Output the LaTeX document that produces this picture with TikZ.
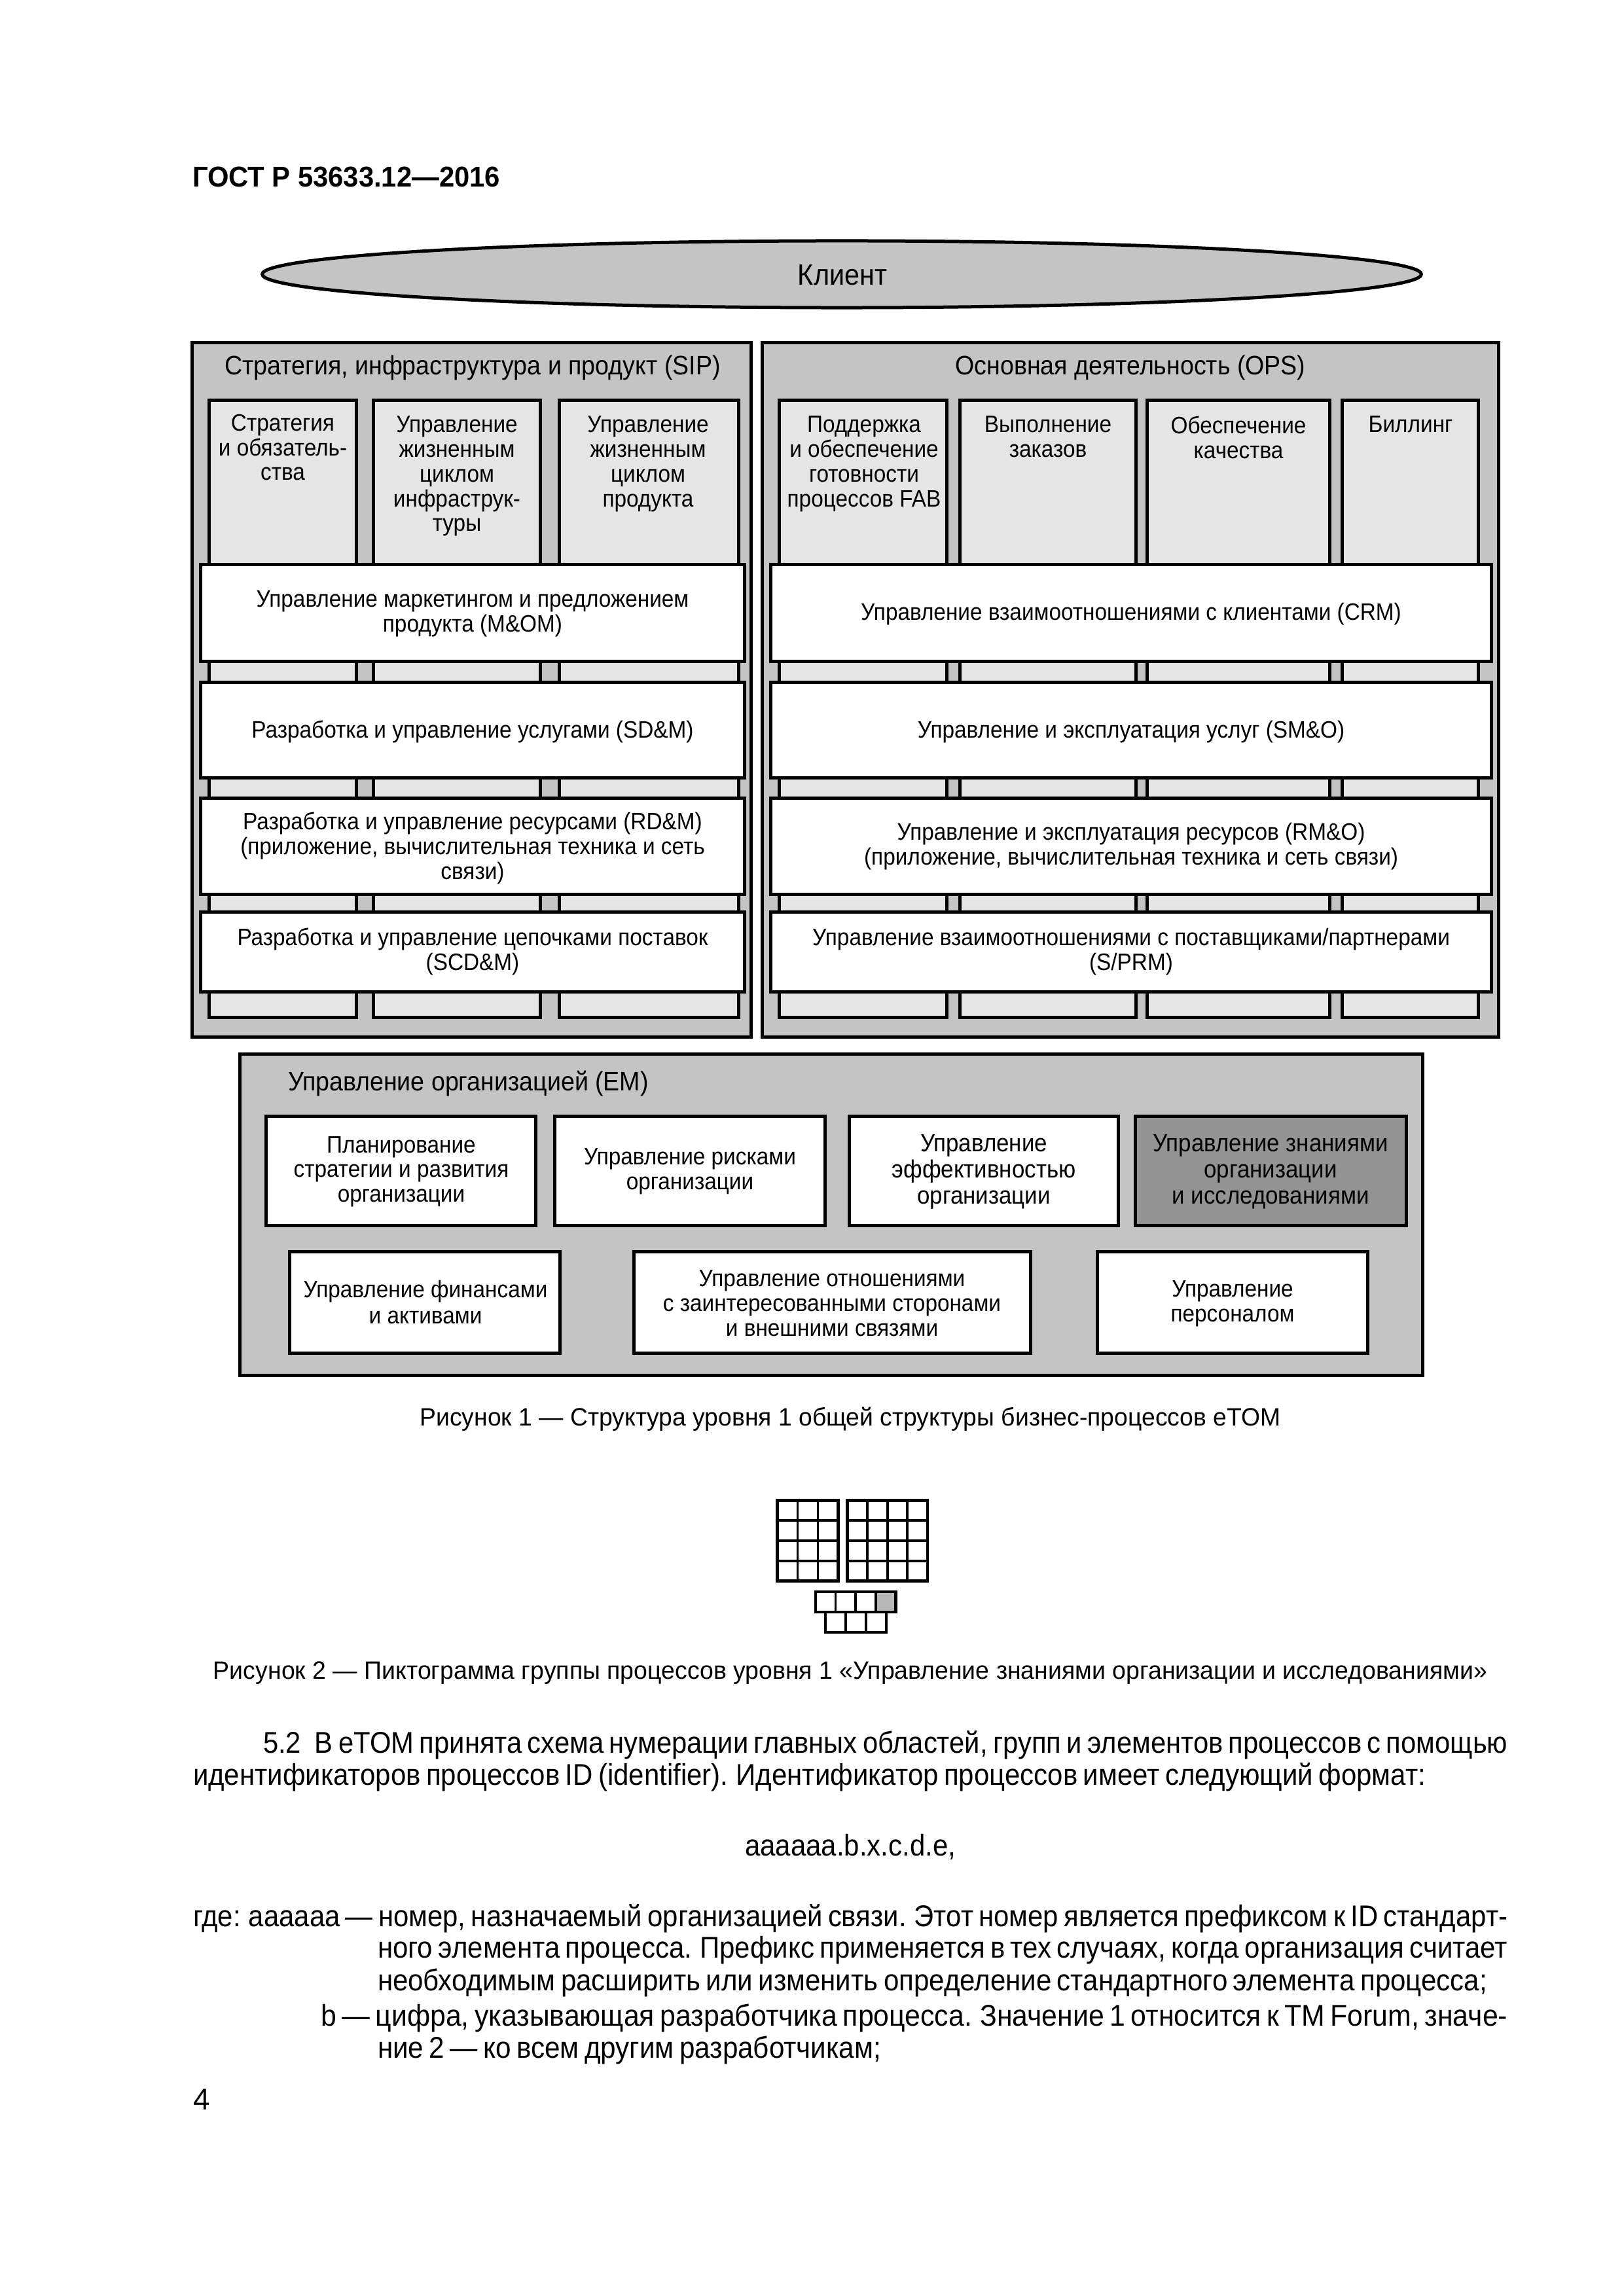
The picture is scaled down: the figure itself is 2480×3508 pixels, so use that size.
\documentclass[tikz,border=0pt]{standalone}
\usepackage{fontspec}
\setmainfont{Liberation Sans}
\newfontfamily\dg[FakeStretch=0.92]{Liberation Sans}
\newfontfamily\bodyf[WordSpace=0.72]{Liberation Sans}
\usetikzlibrary{shapes.geometric}
\definecolor{outerg}{gray}{0.77}
\definecolor{innerg}{gray}{0.9}
\definecolor{darkg}{gray}{0.58}
\newcommand{\bx}[7]{% name style x1 y1 x2 y2 text
  \pgfmathsetmacro{\cxx}{(#3+#5)/2}\pgfmathsetmacro{\cyy}{(#4+#6)/2}%
  \pgfmathsetlengthmacro{\www}{(#5-#3-5)*0.24pt}\pgfmathsetlengthmacro{\hhh}{(#6-#4-5)*0.24pt}%
  \node[#2,minimum width=\www,minimum height=\hhh] (#1) at (\cxx,\cyy) {#7};}
\newcommand{\tline}[6]{% name anchor x y w text
  \node[pline,anchor=#2] (#1) at (#3,#4) {\resizebox{\dimexpr 0.24pt*#5\relax}{\height}{#6}};}
\tikzset{
  x=0.24pt,y=-0.24pt,
  every node/.style={inner sep=0pt,outer sep=0pt},
  pbox/.style={rectangle,draw=black,line width=1.2pt,align=center,font=\dg\fontsize{8.7}{9.05}\selectfont},
  panel/.style={pbox,fill=outerg},
  col/.style={pbox,fill=innerg},
  bar/.style={pbox,fill=white},
  hot/.style={pbox,fill=darkg},
  big/.style={font=\dg\fontsize{9.1}{9.6}\selectfont},
  lab/.style={align=center,font=\dg\fontsize{8.7}{9.05}\selectfont},
  head/.style={align=center,font=\dg\fontsize{9.8}{10}\selectfont},
  pline/.style={font=\bodyf\fontsize{11}{13}\selectfont},
  capt/.style={font=\fontsize{9.2}{11}\selectfont},
  ic/.style={line width=0.9pt,draw=black},
  icout/.style={line width=1.15pt,draw=black},
}
\begin{document}
\begin{tikzpicture}
\useasboundingbox (0,0) rectangle (2480,3508);
\fill[white] (0,0) rectangle (2480,3508);

\node[anchor=west,font=\bfseries\fontsize{10.5}{12}\selectfont] (std) at (294,270) {\resizebox{\dimexpr 0.24pt*470\relax}{\height}{ГОСТ Р 53633.12—2016}};

\node[ellipse,draw=black,line width=1.2pt,fill=outerg,minimum width=425pt,minimum height=24.5pt] (cl) at (1286,419) {};
\node[font=\dg\fontsize{10.8}{11}\selectfont] (tcl) at (1287,420) {Клиент};

% panels
\bx{sip}{panel}{291}{521}{1150}{1587}{}
\bx{ops}{panel}{1162}{521}{2292}{1587}{}
\node[head] (tsip) at (722,562) {Стратегия, инфраструктура и продукт (SIP)};
\node[head] (tops) at (1727,562) {Основная деятельность (OPS)};

% columns
\bx{c1}{col}{317}{609}{547}{1557}{}
\bx{c2}{col}{568}{609}{828}{1557}{}
\bx{c3}{col}{852}{609}{1131}{1557}{}
\bx{c4}{col}{1188}{609}{1449}{1557}{}
\bx{c5}{col}{1464}{609}{1738}{1557}{}
\bx{c6}{col}{1750}{609}{2034}{1557}{}
\bx{c7}{col}{2048}{609}{2261}{1557}{}
\node[lab,anchor=north] (tc1) at (432,633) {Стратегия\\и обязатель-\\ства};
\node[lab,anchor=north] (tc2) at (698,636) {Управление\\жизненным\\циклом\\инфраструк-\\туры};
\node[lab,anchor=north] (tc3) at (990,636) {Управление\\жизненным\\циклом\\продукта};
\node[lab,anchor=north] (tc4) at (1320,636) {Поддержка\\и обеспечение\\готовности\\процессов FAB};
\node[lab,anchor=north] (tc5) at (1601,636) {Выполнение\\заказов};
\node[lab,anchor=north] (tc6) at (1892,636) {Обеспечение\\качества};
\node[lab,anchor=north] (tc7) at (2155,636) {Биллинг};

% bars
\bx{b1}{bar}{304}{860}{1140}{1013}{}
\bx{b2}{bar}{304}{1040}{1140}{1191}{}
\bx{b3}{bar}{304}{1217}{1140}{1369}{}
\bx{b4}{bar}{304}{1391}{1140}{1518}{}
\bx{b5}{bar}{1175}{860}{2281}{1013}{}
\bx{b6}{bar}{1175}{1040}{2281}{1191}{}
\bx{b7}{bar}{1175}{1217}{2281}{1369}{}
\bx{b8}{bar}{1175}{1391}{2281}{1518}{}
\node[lab] (tb1) at (722,938) {Управление маркетингом и предложением\\продукта (M\&OM)};
\node[lab] (tb2) at (722,1118) {Разработка и управление услугами (SD\&M)};
\node[lab] (tb3) at (722,1296) {Разработка и управление ресурсами (RD\&M)\\(приложение, вычислительная техника и сеть\\связи)};
\node[lab] (tb4) at (722,1454) {Разработка и управление цепочками поставок\\(SCD\&M)};
\node[lab] (tb5) at (1728,938) {Управление взаимоотношениями с клиентами (CRM)};
\node[lab] (tb6) at (1728,1118) {Управление и эксплуатация услуг (SM\&O)};
\node[lab] (tb7) at (1728,1293) {Управление и эксплуатация ресурсов (RM\&O)\\(приложение, вычислительная техника и сеть связи)};
\node[lab] (tb8) at (1728,1454) {Управление взаимоотношениями с поставщиками/партнерами\\(S/PRM)};

% EM
\bx{em}{panel}{364}{1608}{2176}{2104}{}
\node[head,anchor=west] (tem) at (440,1656) {Управление организацией (EM)};
\bx{e1}{bar}{404}{1703}{821}{1875}{}
\bx{e2}{bar}{845}{1703}{1263}{1875}{}
\bx{e3}{bar}{1295}{1703}{1711}{1875}{}
\bx{e4}{hot}{1732}{1703}{2151}{1875}{}
\bx{e5}{bar}{440}{1910}{858}{2070}{}
\bx{e6}{bar}{966}{1910}{1577}{2070}{}
\bx{e7}{bar}{1674}{1910}{2092}{2070}{}
\node[lab] (te1) at (613,1790) {Планирование\\стратегии и развития\\организации};
\node[lab] (te2) at (1054,1790) {Управление рисками\\организации};
\node[lab,big] (te3) at (1503,1790) {Управление\\эффективностью\\организации};
\node[lab,big] (te4) at (1941,1790) {Управление знаниями\\организации\\и исследованиями};
\node[lab,font=\dg\fontsize{8.7}{9.6}\selectfont] (te5) at (650,1990) {Управление финансами\\и активами};
\node[lab] (te6) at (1271,1991) {Управление отношениями\\с заинтересованными сторонами\\и внешними связями};
\node[lab] (te7) at (1883,1992) {Управление\\персоналом};

\node[capt] (cap1) at (1299,2168) {\resizebox{\dimexpr 0.24pt*1315\relax}{\height}{Рисунок 1 — Структура уровня 1 общей структуры бизнес-процессов eTOM}};

% pictogram
\foreach \x in {0,...,2} \foreach \y in {0,...,3} {
  \draw[ic] ({1187.5+\x*31},{2292.5+\y*30.75}) rectangle ++(31,30.75);}
\foreach \x in {0,...,3} \foreach \y in {0,...,3} {
  \draw[ic] ({1294.5+\x*30.6},{2292.5+\y*30.75}) rectangle ++(30.6,30.75);}
\draw[icout] (1187.5,2292.5) rectangle ++(93,123);
\draw[icout] (1294.5,2292.5) rectangle ++(122.4,123);
\foreach \x in {0,...,2} {
  \draw[ic] ({1246+\x*30.6},2432) rectangle ++(30.6,31);
  \draw[ic] ({1261+\x*31},2463) rectangle ++(31,31);}
\draw[ic,fill=innerg!80!black] (1337.8,2432) rectangle ++(30.6,31);
\draw[icout] (1246,2432) rectangle ++(122.4,31);
\draw[icout] (1261,2463) rectangle ++(93,31);

\node[capt] (cap2) at (1299,2556) {\resizebox{\dimexpr 0.24pt*1946\relax}{\height}{Рисунок 2 — Пиктограмма группы процессов уровня 1 «Управление знаниями организации и исследованиями»}};

% body text
\tline{l1}{west}{402}{2666}{1901}{5.2\enspace В eTOM принята схема нумерации главных областей, групп и элементов процессов с помощью}
\tline{l2}{west}{295}{2715}{1883}{идентификаторов процессов ID (identifier). Идентификатор процессов имеет следующий формат:}
\tline{l3}{center}{1299}{2822}{322}{аааааа.b.x.c.d.e,}
\tline{l4}{west}{295}{2931}{2008}{где: аааааа — номер, назначаемый организацией связи. Этот номер является префиксом к ID стандарт-}
\tline{l5}{west}{577}{2980}{1726}{ного элемента процесса. Префикс применяется в тех случаях, когда организация считает}
\tline{l6}{west}{577}{3029}{1695}{необходимым расширить или изменить определение стандартного элемента процесса;}
\tline{l7}{west}{490}{3083}{1813}{b — цифра, указывающая разработчика процесса. Значение 1 относится к TM Forum, значе-}
\tline{l8}{west}{577}{3132}{769}{ние 2 — ко всем другим разработчикам;}
\node[pline,anchor=west] (pg) at (295,3208) {4};
\end{tikzpicture}
\end{document}
